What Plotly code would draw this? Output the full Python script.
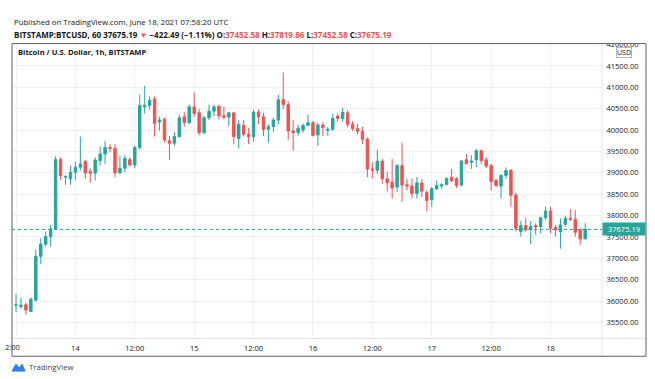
import plotly.graph_objects as go
import pandas as pd

# ---------------- data (BITSTAMP:BTCUSD, 1h) ----------------
start_time = "2021-06-13 12:00"
open_ = [35900, 35870, 35912, 35757, 36021, 37046, 37331, 37509, 37688, 39308,
         38900, 38859, 39014, 39130, 39262, 39030, 38991, 39285, 39438, 39593,
         39569, 38998, 39106, 39308, 39183, 39593, 40542, 40572, 40727, 40188,
         40248, 39748, 39692, 39847, 40310, 40171, 40542, 40403, 39940, 40287,
         40442, 40558, 40333, 40303, 40403, 39801, 40109, 39900, 39847, 40419,
         40310, 40016, 40079, 40234, 40711, 40595, 39979, 39940, 40002, 40109,
         40171, 39887, 40118, 39993, 40016, 40326, 40271, 40403, 40132, 40039,
         39970, 39785, 39090, 39060, 39269, 38859, 38782, 38667, 39169, 38720,
         38690, 38512, 38759, 38535, 38370, 38627, 38690, 38730, 38898, 38859,
         38713, 39303, 39245, 39303, 39516, 39303, 39169, 38822, 38690, 38937,
         39053, 38475, 37625, 37764, 37680, 37764, 37740, 37949, 38104, 37718,
         37625, 37794, 37933, 37910, 37664, 37452.58]
high_ = [36160, 36081, 35965, 36080, 37201, 37470, 37625, 37780, 39384, 39361,
         38944, 39169, 39262, 39847, 39308, 39106, 39361, 39616, 39748, 39669,
         39669, 39400, 39414, 39361, 39632, 40826, 41035, 40789, 40789, 40310,
         40287, 39863, 39956, 40363, 40419, 40595, 40882, 40495, 40326, 40595,
         40595, 40595, 40542, 40419, 40419, 40234, 40234, 40056, 40479, 40479,
         40403, 40132, 40287, 40826, 41345, 40674, 40234, 40132, 40155, 40363,
         40211, 40171, 40188, 40072, 40380, 40387, 40519, 40465, 40211, 40141,
         40079, 39824, 39245, 39539, 39322, 39030, 39322, 39206, 39708, 38859,
         38868, 38898, 38859, 38590, 38667, 38822, 38759, 38898, 39090, 38898,
         39299, 39438, 39414, 39553, 39539, 39361, 39206, 38859, 38975, 39130,
         39090, 38535, 37873, 37949, 37873, 37817, 37972, 38204, 38204, 37780,
         37933, 37995, 38150, 38127, 37718, 37819.86]
low_ = [35740, 35819, 35681, 35740, 35988, 36868, 37278, 37278, 37664, 38829,
        38720, 38720, 38822, 39053, 38859, 38766, 38822, 39169, 39206, 39477,
        38898, 38975, 39014, 39153, 39106, 39539, 40387, 40479, 39847, 39979,
        39708, 39308, 39632, 39824, 40079, 40132, 40310, 39877, 39900, 40234,
        40326, 40248, 40248, 40095, 39669, 39569, 39847, 39669, 39725, 40132,
        39863, 39708, 39956, 40132, 40495, 39771, 39516, 39863, 39940, 40095,
        39847, 39632, 39863, 39863, 39979, 40194, 40194, 40056, 39979, 39900,
        39669, 38898, 38875, 38975, 38743, 38567, 38396, 38551, 38319, 38590,
        38400, 38396, 38435, 38100, 38204, 38590, 38628, 38706, 38782, 38650,
        38683, 39192, 39090, 39130, 39206, 39106, 38590, 38667, 38396, 38859,
        38204, 37625, 37509, 37625, 37331, 37549, 37586, 37896, 37586, 37509,
        37225, 37741, 37873, 37509, 37317, 37452.58]
close_ = [35910, 35905, 35789, 36044, 37046, 37331, 37509, 37688, 39308, 38933,
          38910, 39014, 39130, 39206, 38998, 38991, 39299, 39438, 39593, 39569,
          38998, 39106, 39338, 39183, 39593, 40572, 40572.5, 40697, 40155, 40234,
          39771, 39692, 39847, 40287, 40171, 40542, 40387, 39940, 40287, 40442,
          40542, 40333, 40303, 40403, 39847, 40132, 39900, 39847, 40419, 40310,
          40016, 40079, 40234, 40711, 40595, 39979, 39940, 40044, 40109, 40171,
          39877, 40118, 40056, 40016, 40275, 40271, 40414, 40137, 40039, 39970,
          39785, 39090, 39067, 39269, 38859, 38766, 38644, 39169, 38713, 38690,
          38512, 38766, 38574, 38350, 38627, 38706, 38720, 38859, 38812, 38706,
          39275, 39215, 39275, 39516, 39285, 39160, 38799, 38706, 38937, 39053,
          38475, 37701, 37764, 37664, 37741, 37734, 37949, 38104, 37701, 37664,
          37780, 37933, 37910, 37609, 37456, 37675.19]

tick_times = ["2021-06-13 12:00", "2021-06-14 00:00", "2021-06-14 12:00",
              "2021-06-15 00:00", "2021-06-15 12:00", "2021-06-16 00:00",
              "2021-06-16 12:00", "2021-06-17 00:00", "2021-06-17 12:00",
              "2021-06-18 00:00"]
tick_text = ["", "14", "12:00", "15", "12:00", "16", "12:00", "17", "12:00", "18"]

last_price = close_[-1]
header1 = "Published on TradingView.com, June 18, 2021 07:58:20 UTC"
chart_title = "Bitcoin / U.S. Dollar, 1h, BITSTAMP"

# ---------------- styling ----------------
UP = "#26a69a"
DN = "#ef5350"
GRID = "#eef0f4"
TXT = "#131722"
FONT = "Open Sans"
W, H = 655, 379


def px(x):
    return x / W


def py(y):
    return 1 - y / H


times = pd.date_range(start_time, periods=len(close_), freq="h")
t0 = times[0]
x_lo = t0 - pd.Timedelta(hours=0.81)
x_hi = t0 + pd.Timedelta(hours=118.4)

fig = go.Figure(go.Candlestick(
    x=times, open=open_, high=high_, low=low_, close=close_,
    increasing=dict(line=dict(color=UP, width=1), fillcolor=UP),
    decreasing=dict(line=dict(color=DN, width=1), fillcolor=DN),
    whiskerwidth=0, showlegend=False, hoverinfo="skip",
))

fig.update_layout(
    width=W, height=H,
    margin=dict(l=0, r=0, t=0, b=0),
    paper_bgcolor="white", plot_bgcolor="white",
    font=dict(family=FONT, color=TXT, size=8),
    showlegend=False,
    xaxis=dict(
        domain=[px(12), px(602)],
        range=[x_lo, x_hi],
        type="date",
        tickvals=list(pd.to_datetime(tick_times)), ticktext=tick_text,
        showgrid=True, gridcolor=GRID, gridwidth=1,
        zeroline=False, showline=False,
        ticks="outside", ticklen=3, tickcolor="rgba(0,0,0,0)",
        tickfont=dict(size=7.5, color=TXT, family=FONT),
        rangeslider=dict(visible=False),
        fixedrange=True,
    ),
    yaxis=dict(
        domain=[py(338), py(40)],
        range=[35125, 42023],
        side="right",
        tick0=0, dtick=500, tickformat=".2f",
        showgrid=True, gridcolor=GRID, gridwidth=1,
        zeroline=False, showline=False,
        ticks="outside", ticklen=2, tickcolor="rgba(0,0,0,0)",
        tickfont=dict(size=7.5, color=TXT, family=FONT),
        fixedrange=True,
    ),
)

shapes = []
# separators between plot and axes
shapes.append(dict(type="line", xref="paper", yref="paper", x0=px(602), x1=px(602),
                   y0=py(356), y1=py(40), line=dict(color="#e0e3eb", width=1)))
shapes.append(dict(type="line", xref="paper", yref="paper", x0=px(12), x1=px(646),
                   y0=py(338), y1=py(338), line=dict(color="#e0e3eb", width=1)))
# current price dotted line
shapes.append(dict(type="line", xref="paper", yref="y", x0=px(12), x1=px(602),
                   y0=last_price, y1=last_price, line=dict(color=UP, width=1, dash="dot")))
# mask top half of the clipped 42000 label
shapes.append(dict(type="rect", xref="paper", yref="paper", x0=px(603), x1=px(645),
                   y0=py(40), y1=py(33), fillcolor="white", line=dict(width=0), layer="above"))
# outer frame
shapes.append(dict(type="rect", xref="paper", yref="paper", x0=px(12), x1=px(646),
                   y0=py(356), y1=py(40), line=dict(color="#5d606b", width=1), layer="above"))
# TradingView logo (decorative)
lx, ly = 12, 367
logo = (f"M {px(lx)} {py(ly+4)} L {px(lx+4)} {py(ly-3)} L {px(lx+7)} {py(ly+1)} "
        f"L {px(lx+10)} {py(ly-3)} L {px(lx+13)} {py(ly+4)} Z")
shapes.append(dict(type="path", xref="paper", yref="paper", path=logo,
                   fillcolor="#2e7cf6", line=dict(color="#2e7cf6", width=1)))
fig.update_layout(shapes=shapes)

header2 = (f"<b>BITSTAMP:BTCUSD, 60 {last_price:.2f} <span style='color:{DN}'>▼</span> "
           f"−422.49 (−1.11%) O:<span style='color:{DN}'>{open_[-1]:.2f}</span> "
           f"H:<span style='color:{DN}'>{high_[-1]:.2f}</span> "
           f"L:<span style='color:{DN}'>{low_[-1]:.2f}</span> "
           f"C:<span style='color:{DN}'>{close_[-1]:.2f}</span></b>")

annots = [
    dict(x=px(12), y=py(18), xref="paper", yref="paper", xanchor="left", yanchor="middle",
         text=header1, showarrow=False, font=dict(size=7.8, color=TXT, family=FONT)),
    dict(x=px(12), y=py(31), xref="paper", yref="paper", xanchor="left", yanchor="middle",
         text=header2, showarrow=False, font=dict(size=8, color=TXT, family=FONT)),
    dict(x=px(16), y=py(49), xref="paper", yref="paper", xanchor="left", yanchor="middle",
         text=f"<b>{chart_title}</b>", showarrow=False, font=dict(size=7.6, color=TXT, family=FONT)),
    dict(x=px(12), y=py(347), xref="paper", yref="paper", xanchor="center", yanchor="middle",
         text="2:00", showarrow=False, font=dict(size=7.5, color=TXT, family=FONT)),
    dict(x=px(624), y=py(49), xref="paper", yref="paper", xanchor="center", yanchor="middle",
         text="USD", showarrow=False, font=dict(size=7, color=TXT, family=FONT),
         bgcolor="white", bordercolor="#b2b5be", borderwidth=1, borderpad=0),
    dict(x=px(624), y=last_price, xref="paper", yref="y", xanchor="center", yanchor="middle",
         text=f"{last_price:.2f}", showarrow=False, font=dict(size=7.5, color="white", family=FONT),
         bgcolor=UP, borderpad=1, width=40),
    dict(x=px(27), y=py(367), xref="paper", yref="paper", xanchor="left", yanchor="middle",
         text="TradingView", showarrow=False, font=dict(size=7.8, color="#434651", family=FONT)),
]
fig.update_layout(annotations=annots)

fig.write_html("out.html", config=dict(displayModeBar=False, staticPlot=True),
               post_script="document.body.style.margin='0';document.body.style.overflow='hidden';")
